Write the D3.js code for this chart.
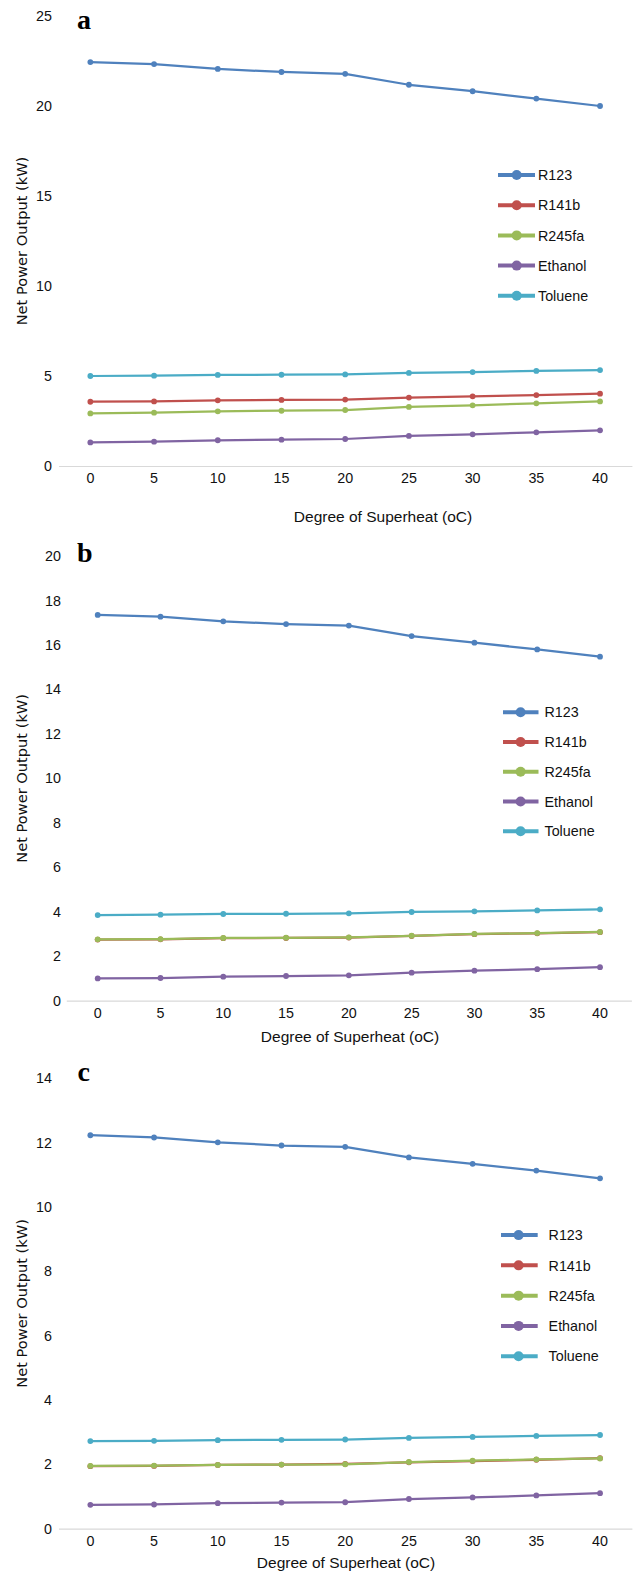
<!DOCTYPE html>
<html>
<head>
<meta charset="utf-8">
<script src="https://cdn.jsdelivr.net/npm/d3@7/dist/d3.min.js"></script>
<style>
  html, body { margin: 0; padding: 0; background: #fff; }
  svg { display: block; }
</style>
</head>
<body>
<script>
// ---------------- DATA ----------------
const degrees = [0, 5, 10, 15, 20, 25, 30, 35, 40];
const seriesNames = ["R123", "R141b", "R245fa", "Ethanol", "Toluene"];
const panelLetters = ["a", "b", "c"];
const xTitle = "Degree of Superheat (oC)";
const yTitle = "Net Power Output (kW)";

// Panel a
const a_R123    = [22.44, 22.33, 22.06, 21.89, 21.79, 21.18, 20.82, 20.41, 20.00];
const a_R141b   = [3.57, 3.59, 3.65, 3.67, 3.69, 3.80, 3.87, 3.94, 4.02];
const a_R245fa  = [2.92, 2.96, 3.04, 3.07, 3.11, 3.28, 3.37, 3.48, 3.59];
const a_Ethanol = [1.31, 1.35, 1.43, 1.46, 1.50, 1.67, 1.76, 1.87, 1.98];
const a_Toluene = [5.00, 5.02, 5.06, 5.07, 5.09, 5.17, 5.22, 5.28, 5.33];
const a_yTicks  = [0, 5, 10, 15, 20, 25];

// Panel b
const b_R123    = [17.35, 17.27, 17.06, 16.94, 16.87, 16.40, 16.10, 15.80, 15.47];
const b_R141b   = [2.75, 2.76, 2.81, 2.82, 2.84, 2.91, 2.99, 3.03, 3.08];
const b_R245fa  = [2.76, 2.77, 2.82, 2.83, 2.85, 2.92, 3.00, 3.04, 3.09];
const b_Ethanol = [1.00, 1.02, 1.08, 1.11, 1.14, 1.26, 1.35, 1.42, 1.51];
const b_Toluene = [3.85, 3.87, 3.90, 3.91, 3.93, 3.99, 4.02, 4.06, 4.11];
const b_yTicks  = [0, 2, 4, 6, 8, 10, 12, 14, 16, 18, 20];

// Panel c
const c_R123    = [12.23, 12.16, 12.01, 11.91, 11.87, 11.54, 11.34, 11.13, 10.89];
const c_R141b   = [1.94, 1.95, 1.98, 1.99, 2.01, 2.06, 2.10, 2.14, 2.19];
const c_R245fa  = [1.95, 1.96, 1.98, 1.99, 2.00, 2.07, 2.11, 2.15, 2.18];
const c_Ethanol = [0.74, 0.75, 0.79, 0.81, 0.82, 0.92, 0.97, 1.03, 1.10];
const c_Toluene = [2.72, 2.73, 2.75, 2.76, 2.77, 2.82, 2.85, 2.88, 2.91];
const c_yTicks  = [0, 2, 4, 6, 8, 10, 12, 14];

// ---------------- STYLE / LAYOUT ----------------
const colors = ["#4F81BD", "#C0504D", "#9BBB59", "#8064A2", "#4BACC6"];
const W = 633, H = 1572;
const sans = "'Liberation Sans', Arial, sans-serif";

const panelData = [
  { series: [a_R123, a_R141b, a_R245fa, a_Ethanol, a_Toluene], yTicks: a_yTicks },
  { series: [b_R123, b_R141b, b_R245fa, b_Ethanol, b_Toluene], yTicks: b_yTicks },
  { series: [c_R123, c_R141b, c_R245fa, c_Ethanol, c_Toluene], yTicks: c_yTicks }
];

const layout = [
  { x0: 58.5, x1: 631.9, yBottom: 466,    yTop: 16,     labelRight: 52,
    xTitleX: 383, xTitleY: 522, yTitleX: 27, letterX: 77, letterY: 29,
    legLine: [498, 535], legMarker: 516.7, legText: 538, legY0: 175, legDy: 30.2 },
  { x0: 66.3, x1: 631.4, yBottom: 1000.7, yTop: 556,    labelRight: 61,
    xTitleX: 350, xTitleY: 1042, yTitleX: 26.5, letterX: 77, letterY: 562,
    legLine: [503, 538.5], legMarker: 520.6, legText: 544.5, legY0: 712.3, legDy: 29.75 },
  { x0: 58.5, x1: 631.9, yBottom: 1528.6, yTop: 1078.3, labelRight: 52,
    xTitleX: 346, xTitleY: 1567.5, yTitleX: 26.5, letterX: 77.5, letterY: 1080.5,
    legLine: [501, 537.7], legMarker: 518.6, legText: 548.6, legY0: 1235.1, legDy: 30.27 }
];

const svg = d3.select("body").append("svg")
  .attr("width", W).attr("height", H)
  .attr("viewBox", `0 0 ${W} ${H}`);

panelData.forEach((pd, pi) => {
  const L = layout[pi];
  const g = svg.append("g");

  const x = d3.scaleBand().domain(degrees).range([L.x0, L.x1]);
  const xc = d => x(d) + x.bandwidth() / 2;
  const yMax = pd.yTicks[pd.yTicks.length - 1];
  const y = d3.scaleLinear().domain([0, yMax]).range([L.yBottom, L.yTop]);

  // X axis
  const xAxis = g.append("g")
    .attr("transform", `translate(0,${L.yBottom})`)
    .call(d3.axisBottom(x).tickSize(0).tickSizeOuter(0).tickPadding(7));
  xAxis.select(".domain").attr("stroke", "#D9D9D9").attr("stroke-width", 1.2);
  xAxis.selectAll("text").attr("font-family", sans).attr("font-size", 14.3).attr("fill", "#111");

  // Y axis
  const yAxis = g.append("g")
    .attr("transform", `translate(${L.labelRight},0)`)
    .call(d3.axisLeft(y).tickValues(pd.yTicks).tickSize(0).tickPadding(0).tickFormat(d3.format("d")));
  yAxis.select(".domain").remove();
  yAxis.selectAll("text").attr("font-family", sans).attr("font-size", 14.3).attr("fill", "#111");

  // Axis titles
  g.append("text")
    .attr("x", L.xTitleX).attr("y", L.xTitleY)
    .attr("text-anchor", "middle")
    .attr("font-family", sans).attr("font-size", 15.5).attr("fill", "#111")
    .text(xTitle);

  const yMid = (L.yBottom + L.yTop) / 2;
  g.append("text")
    .attr("transform", `translate(${L.yTitleX},${yMid}) rotate(-90)`)
    .attr("text-anchor", "middle")
    .attr("font-family", "'DejaVu Sans', sans-serif").attr("font-size", 14.6).attr("fill", "#111")
    .text(yTitle);

  // Panel letter
  g.append("text")
    .attr("x", L.letterX).attr("y", L.letterY)
    .attr("font-family", "'Liberation Serif', 'Times New Roman', serif")
    .attr("font-weight", "bold").attr("font-size", 28).attr("fill", "#000")
    .text(panelLetters[pi]);

  // Series
  const line = d3.line().x((d, i) => xc(degrees[i])).y(d => y(d));
  pd.series.forEach((vals, si) => {
    const sg = g.append("g");
    sg.append("path")
      .datum(vals)
      .attr("d", line)
      .attr("fill", "none")
      .attr("stroke", colors[si])
      .attr("stroke-width", 2.25)
      .attr("stroke-linejoin", "round");
    sg.selectAll("circle")
      .data(vals)
      .join("circle")
      .attr("cx", (d, i) => xc(degrees[i]))
      .attr("cy", d => y(d))
      .attr("r", 2.9)
      .attr("fill", colors[si]);
  });

  // Legend
  const leg = g.append("g");
  seriesNames.forEach((name, si) => {
    const ly = L.legY0 + si * L.legDy;
    leg.append("line")
      .attr("x1", L.legLine[0]).attr("x2", L.legLine[1])
      .attr("y1", ly).attr("y2", ly)
      .attr("stroke", colors[si]).attr("stroke-width", 4);
    leg.append("circle")
      .attr("cx", L.legMarker).attr("cy", ly).attr("r", 5)
      .attr("fill", colors[si]);
    leg.append("text")
      .attr("x", L.legText).attr("y", ly).attr("dy", "0.36em")
      .attr("font-family", sans).attr("font-size", 14.3).attr("fill", "#111")
      .text(name);
  });
});
</script>
</body>
</html>
